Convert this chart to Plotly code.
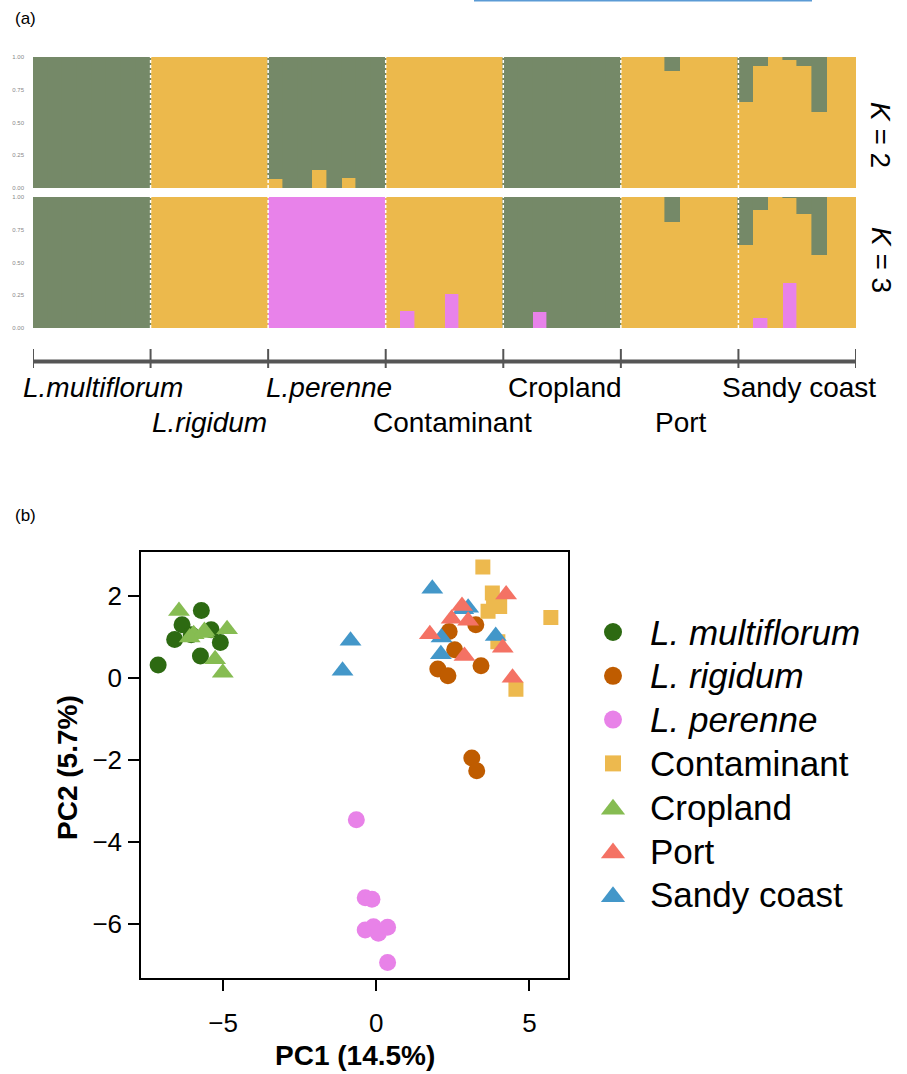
import plotly.graph_objects as go

W, H = 907, 1074
FONT = "Liberation Sans, Arial, Helvetica, sans-serif"

# ---------------- data: (a) admixture proportions ----------------
groups = ["L.multiflorum", "L.rigidum", "L.perenne", "Contaminant", "Cropland", "Port", "Sandy coast"]
group_italic = [True, True, True, False, False, False, False]
n_per_group = 8

# K = 2 : cluster 1 (orange, bottom), cluster 2 (green, top)
k2_orange = ([0]*8 + [1]*8 + [0.07, 0, 0, 0.14, 0, 0.08, 0, 0] + [1]*8 + [0]*8 +
             [1, 1, 1, 0.89, 1, 1, 1, 1] + [0.66, 0.93, 1, 0.98, 0.93, 0.58, 1, 1])
k2_green = ([1]*8 + [0]*8 + [0.93, 1, 1, 0.86, 1, 0.92, 1, 1] + [0]*8 + [1]*8 +
            [0, 0, 0, 0.11, 0, 0, 0, 0] + [0.34, 0.07, 0, 0.02, 0.07, 0.42, 0, 0])

# K = 3 : pink (bottom), orange (middle), green (top)
k3_pink = ([0]*8 + [0]*8 + [1]*8 + [0, 0.13, 0, 0, 0.26, 0, 0, 0] + [0, 0, 0.12, 0, 0, 0, 0, 0] +
           [0]*8 + [0, 0.08, 0, 0.34, 0, 0, 0, 0])
k3_orange = ([0]*8 + [1]*8 + [0]*8 + [1, 0.87, 1, 1, 0.74, 1, 1, 1] + [0]*8 +
             [1, 1, 1, 0.81, 1, 1, 1, 1] + [0.63, 0.82, 1, 0.65, 0.87, 0.555, 1, 1])
k3_green = ([1]*8 + [0]*8 + [0]*8 + [0]*8 + [1, 1, 0.88, 1, 1, 1, 1, 1] +
            [0, 0, 0, 0.19, 0, 0, 0, 0] + [0.37, 0.10, 0, 0.01, 0.13, 0.445, 0, 0])

struct_ticks = [0, 0.25, 0.5, 0.75, 1.0]
struct_ticktext = ["0.00", "0.25", "0.50", "0.75", "1.00"]

# ---------------- data: (b) PCA ----------------
pca_groups = ["L. multiflorum", "L. rigidum", "L. perenne", "Contaminant", "Cropland", "Port", "Sandy coast"]
pc1_multiflorum = [-5.71, -6.34, -6.58, -7.12, -5.74, -5.09, -5.39, -6.04]
pc2_multiflorum = [1.65, 1.30, 0.94, 0.32, 0.54, 0.87, 1.18, 1.06]
pc1_rigidum = [3.25, 2.38, 2.56, 2.01, 2.34, 3.42, 3.12, 3.28]
pc2_rigidum = [1.30, 1.14, 0.69, 0.22, 0.06, 0.30, -1.95, -2.26]
pc1_perenne = [-0.65, -0.36, -0.14, -0.36, -0.09, 0.07, 0.37, 0.37]
pc2_perenne = [-3.46, -5.36, -5.40, -6.15, -6.07, -6.23, -6.08, -6.94]
pc1_contaminant = [3.48, 3.79, 4.03, 3.65, 5.70, 3.97, 4.56, 3.83]
pc2_contaminant = [2.71, 2.08, 1.75, 1.63, 1.48, 0.89, -0.27, 1.87]
pc1_cropland = [-6.44, -5.96, -5.61, -4.87, -5.26, -5.01, -6.09, -5.63]
pc2_cropland = [1.64, 1.07, 1.15, 1.19, 0.46, 0.13, 0.99, 1.10]
pc1_port = [4.24, 2.80, 2.46, 3.00, 1.75, 2.88, 4.13, 4.45]
pc2_port = [2.04, 1.76, 1.45, 1.40, 1.07, 0.54, 0.74, 0.01]
pc1_sandy = [-0.84, -1.10, 1.83, 3.00, 2.13, 3.90, 2.11, 2.84]
pc2_sandy = [0.91, 0.18, 2.18, 1.72, 0.99, 1.03, 0.58, 1.68]

pc1_ticks = [-5, 0, 5]
pc2_ticks = [-6, -4, -2, 0, 2]

# ---------------- styles ----------------
C_GREEN_S = "#758968"
C_ORANGE_S = "#ECB94C"
C_PINK_S = "#E882EA"

pca_colors = ["#2D6A12", "#BF5C00", "#E882E8", "#EDB94E", "#86BC52", "#F47264", "#4397C9"]
pca_symbols = ["circle", "circle", "circle", "square", "triangle-up", "triangle-up", "triangle-up"]
pca_sizes = [17, 17, 17, 15, 19, 19, 19]
pca_x = [pc1_multiflorum, pc1_rigidum, pc1_perenne, pc1_contaminant, pc1_cropland, pc1_port, pc1_sandy]
pca_y = [pc2_multiflorum, pc2_rigidum, pc2_perenne, pc2_contaminant, pc2_cropland, pc2_port, pc2_sandy]


def px_x(p):
    return p / W


def px_y(p):
    return 1 - p / H


fig = go.Figure()

n_ind = n_per_group * len(groups)
ind = list(range(n_ind))

# structure bars
for vals, col in [(k2_orange, C_ORANGE_S), (k2_green, C_GREEN_S)]:
    fig.add_trace(go.Bar(x=ind, y=vals, width=1, marker=dict(color=col, line=dict(width=0.6, color=col)),
                         xaxis="x", yaxis="y", showlegend=False, hoverinfo="skip"))
for vals, col in [(k3_pink, C_PINK_S), (k3_orange, C_ORANGE_S), (k3_green, C_GREEN_S)]:
    fig.add_trace(go.Bar(x=ind, y=vals, width=1, marker=dict(color=col, line=dict(width=0.6, color=col)),
                         xaxis="x2", yaxis="y2", showlegend=False, hoverinfo="skip"))

# PCA scatter, drawing order
order = [0, 1, 2, 3, 4, 6, 5]
for i in order:
    fig.add_trace(go.Scatter(x=pca_x[i], y=pca_y[i], mode="markers", name=pca_groups[i],
                             marker=dict(symbol=pca_symbols[i], size=pca_sizes[i], color=pca_colors[i],
                                         line=dict(width=0)),
                             xaxis="x3", yaxis="y3", showlegend=False))

# manual legend on a pixel-coordinate axis
leg_x_marker = 613
leg_x_text = 648
leg_y0 = 632
leg_dy = 43.8
leg_sizes = [18, 18, 18, 16, 21, 21, 21]
for i, name in enumerate(pca_groups):
    yy = leg_y0 + i * leg_dy
    fig.add_trace(go.Scatter(x=[leg_x_marker], y=[yy + (2 if pca_symbols[i] == "triangle-up" else 0)],
                             mode="markers",
                             marker=dict(symbol=pca_symbols[i], size=leg_sizes[i], color=pca_colors[i],
                                         line=dict(width=0)),
                             xaxis="x4", yaxis="y4", showlegend=False, hoverinfo="skip"))
    txt = f"<i>{name}</i>" if i < 3 else name
    fig.add_annotation(x=leg_x_text, y=yy, xref="x4", yref="y4", text=txt, showarrow=False,
                       xanchor="left", yanchor="middle", font=dict(size=35, color="black", family=FONT))

struct_dom_x = [px_x(33), px_x(856)]
fig.update_layout(
    width=W, height=H, margin=dict(l=0, r=0, t=0, b=0),
    template="none", paper_bgcolor="white", plot_bgcolor="white",
    font=dict(family=FONT, color="black"),
    barmode="stack", bargap=0, showlegend=False,
    xaxis=dict(domain=struct_dom_x, range=[-0.5, n_ind - 0.5], visible=False, anchor="y", fixedrange=True),
    yaxis=dict(domain=[px_y(188), px_y(57)], range=[0, 1], tickvals=struct_ticks, ticktext=struct_ticktext,
               tickfont=dict(size=6, color="#888888"), showgrid=False, zeroline=False, showline=False,
               ticks="", ticklabelstandoff=8, anchor="x"),
    xaxis2=dict(domain=struct_dom_x, range=[-0.5, n_ind - 0.5], visible=False, anchor="y2"),
    yaxis2=dict(domain=[px_y(328), px_y(197)], range=[0, 1], tickvals=struct_ticks, ticktext=struct_ticktext,
                tickfont=dict(size=6, color="#888888"), showgrid=False, zeroline=False, showline=False,
                ticks="", ticklabelstandoff=8, anchor="x2"),
    xaxis3=dict(domain=[px_x(141), px_x(568)], range=[-7.68, 6.26], tickvals=pc1_ticks,
                ticks="outside", ticklen=11, tickwidth=1.5, tickcolor="black",
                showline=True, linewidth=1.5, linecolor="black", mirror=True,
                showgrid=False, zeroline=False, tickfont=dict(size=26), ticklabelstandoff=10, anchor="y3"),
    yaxis3=dict(domain=[px_y(978), px_y(551.5)], range=[-7.32, 3.09], tickvals=pc2_ticks,
                ticks="outside", ticklen=11, tickwidth=1.5, tickcolor="black",
                showline=True, linewidth=1.5, linecolor="black", mirror=True,
                showgrid=False, zeroline=False, tickfont=dict(size=26), ticklabelstandoff=1, anchor="x3"),
    xaxis4=dict(domain=[px_x(590), px_x(905)], range=[590, 905], visible=False, anchor="y4"),
    yaxis4=dict(domain=[px_y(930), px_y(600)], range=[930, 600], visible=False, anchor="x4"),
)

shapes = []
# dashed separators
for b in range(1, len(groups)):
    xb = b * n_per_group - 0.5
    for xr, yr in [("x", "y"), ("x2", "y2")]:
        shapes.append(dict(type="line", xref=xr, yref=yr, x0=xb, x1=xb, y0=0, y1=1,
                           line=dict(color="white", width=1.5, dash="3px,2px")))
# group axis under structure plot
shapes.append(dict(type="line", xref="x", yref="paper", x0=-0.5, x1=n_ind - 0.5,
                   y0=px_y(361.5), y1=px_y(361.5), line=dict(color="#555555", width=4)))
for b in range(len(groups) + 1):
    xb = b * n_per_group - 0.5
    shapes.append(dict(type="line", xref="x", yref="paper", x0=xb, x1=xb,
                       y0=px_y(349), y1=px_y(368), line=dict(color="#555555", width=2)))
# thin blue line at the top
shapes.append(dict(type="line", xref="paper", yref="paper", x0=px_x(474), x1=px_x(812),
                   y0=px_y(0.5), y1=px_y(0.5), line=dict(color="#5B9BD5", width=2)))
fig.update_layout(shapes=shapes)

# group labels
label_shift = [11, 0, 2, 8, 3, 1, 2]
for i, g in enumerate(groups):
    txt = f"<i>{g}</i>" if group_italic[i] else g
    fig.add_annotation(x=i * n_per_group + (n_per_group - 1) / 2, xref="x",
                       y=px_y(387 if i % 2 == 0 else 423), yref="paper", text=txt, showarrow=False,
                       xanchor="center", yanchor="middle", xshift=label_shift[i],
                       font=dict(size=28, color="black", family=FONT))

# K labels
fig.add_annotation(x=px_x(881), y=px_y(135), xref="paper", yref="paper", text="<i>K</i> = 2",
                   textangle=90, showarrow=False, xanchor="center", yanchor="middle",
                   font=dict(size=28, color="black"))
fig.add_annotation(x=px_x(881), y=px_y(260), xref="paper", yref="paper", text="<i>K</i> = 3",
                   textangle=90, showarrow=False, xanchor="center", yanchor="middle",
                   font=dict(size=28, color="black"))

# panel labels
fig.add_annotation(x=px_x(13), y=px_y(18), xref="paper", yref="paper", text="(a)", showarrow=False,
                   xanchor="left", yanchor="middle", font=dict(size=17, color="black"))
fig.add_annotation(x=px_x(13), y=px_y(515), xref="paper", yref="paper", text="(b)", showarrow=False,
                   xanchor="left", yanchor="middle", font=dict(size=17, color="black"))

# PCA axis titles
fig.add_annotation(x=px_x(355), y=px_y(1055), xref="paper", yref="paper", text="<b>PC1 (14.5%)</b>",
                   showarrow=False, xanchor="center", yanchor="middle", font=dict(size=28, color="black"))
fig.add_annotation(x=px_x(67), y=px_y(768), xref="paper", yref="paper", text="<b>PC2 (5.7%)</b>",
                   textangle=-90, showarrow=False, xanchor="center", yanchor="middle",
                   font=dict(size=28, color="black"))

fig.write_html("out.html")
